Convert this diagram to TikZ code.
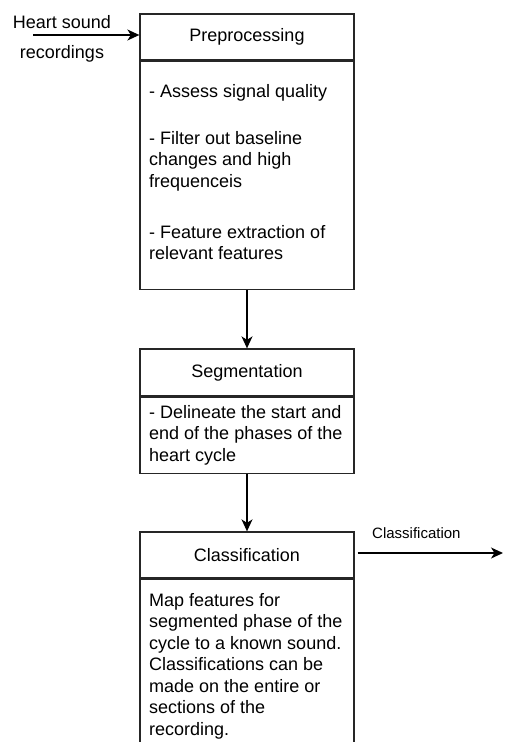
\documentclass[tikz,border=0pt]{standalone}
\usepackage{fontspec}
\setmainfont{Liberation Sans}
\usetikzlibrary{arrows.meta}
\tikzset{
  box/.style={draw=black!85, line width=1.3pt, fill=white, inner sep=0pt},
  head/.style={box, minimum width=214pt, font=\fontsize{18}{21.5}\selectfont},
  body/.style={box, minimum width=214pt, anchor=north},
  txt/.style={anchor=base west, align=left, inner sep=0pt, font=\fontsize{18}{21.5}\selectfont},
  lbl/.style={inner sep=0pt, font=\fontsize{18}{21.5}\selectfont},
  arr/.style={draw=black, line width=1.4pt, -{Stealth[length=12pt, width=11pt, inset=3.5pt]}}
}
\begin{document}
\begin{tikzpicture}[x=1pt, y=-1pt]
  \clip (0,0) rectangle (505,742);
  \useasboundingbox (0,0) rectangle (505,742);

  % Preprocessing stage (text placed by the baseline of its last line)
  \node[head, minimum height=46pt] (pre) at (247,37) {Preprocessing};
  \node[body, minimum height=228pt] (prebody) at (pre.south) {};
  \node[txt] (pretxt) at (149,259.5) {- Assess signal quality\\[25.5pt]
    - Filter out baseline\\changes and high\\frequenceis\\[29.5pt]
    - Feature extraction of\\relevant features};

  % Segmentation stage
  \node[head, minimum height=47pt] (seg) at (247,372.5) {Segmentation};
  \node[body, minimum height=76pt] (segbody) at (seg.south) {};
  \node[txt] (segtxt) at (149,461) {- Delineate the start and\\end of the phases of the\\heart cycle};

  % Classification stage
  \node[head, minimum height=46pt] (cls) at (247,555) {Classification};
  \node[body, minimum height=190pt] (clsbody) at (cls.south) {};
  \node[txt] (clstxt) at (149,735) {Map features for\\segmented phase of the\\cycle to a known sound.\\Classifications can be\\made on the entire or\\sections of the\\recording.};

  % Input
  \coordinate (in) at (33,35);
  \draw[arr] (in) -- (in -| pre.west);
  \node[lbl, align=center, anchor=base] (inlbl) at (62,58) {Heart sound\\[8.5pt]recordings};

  % Flow between stages
  \draw[arr] (prebody.south) -- (seg.north);
  \draw[arr] (segbody.south) -- (cls.north);

  % Output
  \coordinate (out) at (503,553);
  \draw[arr] ([xshift=3pt]cls.east |- out) -- (out);
  \node[inner sep=0pt, anchor=base west, font=\fontsize{15}{18}\selectfont] (outlbl) at (372,538) {Classification};
\end{tikzpicture}
\end{document}
